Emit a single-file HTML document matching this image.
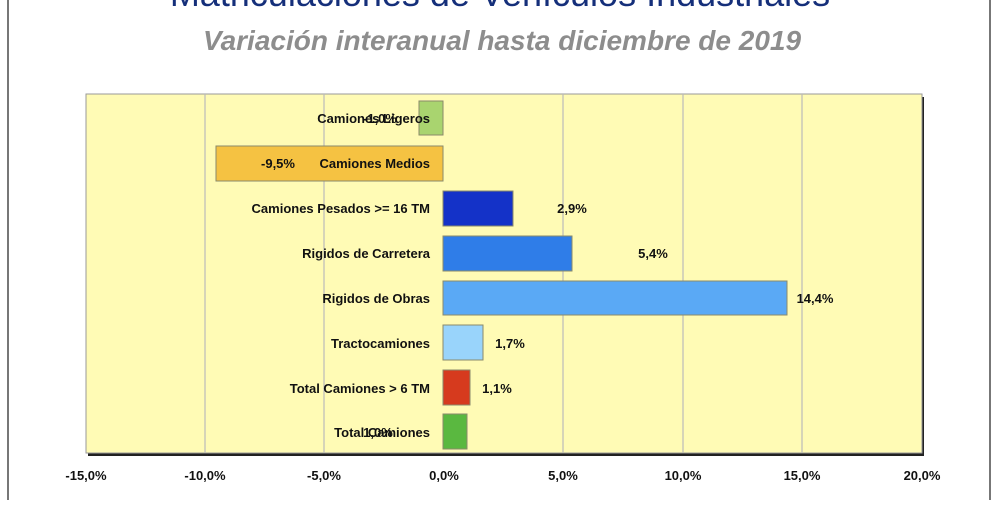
<!DOCTYPE html>
<html><head><meta charset="utf-8"><style>
body{margin:0;width:1000px;height:500px;background:#fff;overflow:hidden;font-family:"Liberation Sans Narrow","Liberation Sans",sans-serif;}
</style></head><body>
<svg width="1000" height="500" xmlns="http://www.w3.org/2000/svg" font-family="Liberation Sans Narrow, Liberation Sans, sans-serif">
<rect x="8" y="-5" width="982" height="520" fill="#fff" stroke="#777" stroke-width="2"/>
<text x="500" y="6" text-anchor="middle" font-size="36" fill="#152f7a" font-family="Liberation Sans, sans-serif">Matriculaciones de Vehículos Industriales</text>
<text x="502" y="50" text-anchor="middle" font-size="28" font-style="italic" font-weight="bold" fill="#8d8d8d" font-family="Liberation Sans, sans-serif">Variación interanual hasta diciembre de 2019</text>
<rect x="88" y="97" width="836" height="359" fill="#222"/>
<rect x="86" y="94" width="836" height="359" fill="#fffbb5" stroke="#999" stroke-width="1"/>
<g stroke="#bbb" stroke-width="1.2">
<line x1="205" y1="94" x2="205" y2="453"/><line x1="324" y1="94" x2="324" y2="453"/>
<line x1="563" y1="94" x2="563" y2="453"/><line x1="683" y1="94" x2="683" y2="453"/><line x1="802" y1="94" x2="802" y2="453"/>
</g>
<g stroke="#8a8a6a" stroke-width="1">
<rect x="419" y="101" width="24" height="34" fill="#a9d46f"/>
<rect x="216" y="146" width="227" height="35" fill="#f5c242"/>
<rect x="443" y="191" width="70" height="35" fill="#1432c8"/>
<rect x="443" y="236" width="129" height="35" fill="#2f7de8"/>
<rect x="443" y="281" width="344" height="34" fill="#5aa9f5"/>
<rect x="443" y="325" width="40" height="35" fill="#99d4fb"/>
<rect x="443" y="370" width="27" height="35" fill="#d63a1e"/>
<rect x="443" y="414" width="24" height="35" fill="#5ab840"/>
</g>
<g font-size="13" font-weight="bold" fill="#111" text-anchor="end">
<text x="430" y="123">Camiones Ligeros</text>
<text x="430" y="168">Camiones Medios</text>
<text x="430" y="213">Camiones Pesados &gt;= 16 TM</text>
<text x="430" y="258">Rigidos de Carretera</text>
<text x="430" y="303">Rigidos de Obras</text>
<text x="430" y="348">Tractocamiones</text>
<text x="430" y="393">Total Camiones  &gt; 6 TM</text>
<text x="430" y="437">Total Camiones</text>
</g>
<g font-size="13" font-weight="bold" fill="#111" text-anchor="middle">
<text x="380" y="123">-1,0%</text>
<text x="278" y="168">-9,5%</text>
<text x="572" y="213">2,9%</text>
<text x="653" y="258">5,4%</text>
<text x="815" y="303">14,4%</text>
<text x="510" y="348">1,7%</text>
<text x="497" y="393">1,1%</text>
<text x="378" y="437">1,0%</text>
</g>
<g font-size="13" font-weight="bold" fill="#111" text-anchor="middle">
<text x="86" y="480">-15,0%</text><text x="205" y="480">-10,0%</text><text x="324" y="480">-5,0%</text>
<text x="444" y="480">0,0%</text><text x="563" y="480">5,0%</text><text x="683" y="480">10,0%</text>
<text x="802" y="480">15,0%</text><text x="922" y="480">20,0%</text>
</g>
</svg>
</body></html>
